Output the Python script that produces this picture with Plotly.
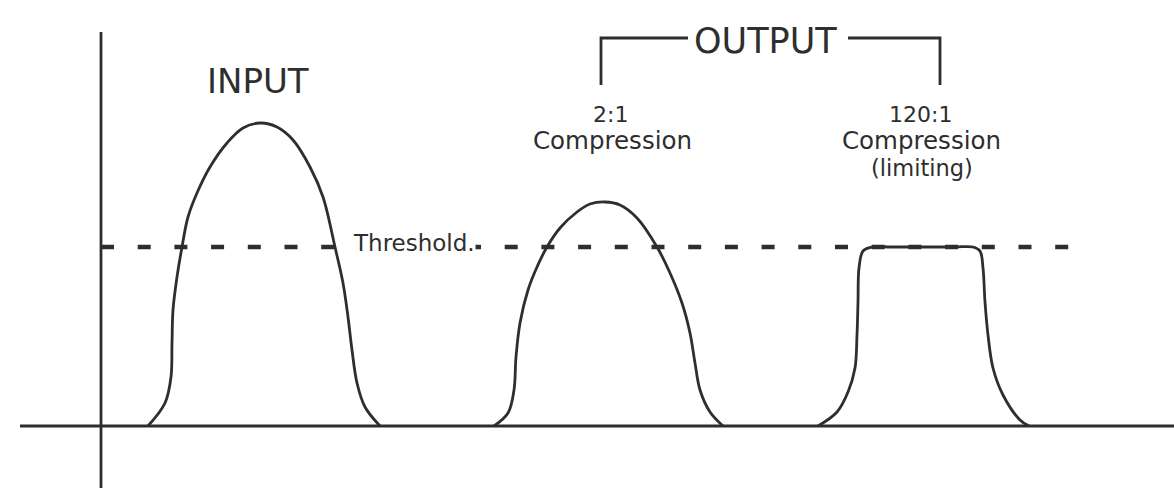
import plotly.graph_objects as go

# ---- data (time units along x, level units along y; baseline = 0) ----
threshold_level = 179
threshold_span = [0, 989]

input_x = [47, 64, 70, 71, 72, 76, 81, 87, 96, 109, 126, 142, 159, 176, 192, 209, 222, 234, 242, 247, 251, 256, 264, 279]
input_y = [0, 23, 49, 83, 116, 149, 179, 209, 233, 259, 283, 298, 303, 299, 286, 259, 229, 179, 143, 109, 76, 43, 19, 0]

comp2_x = [393, 407, 413, 415, 419, 427, 436, 446, 459, 476, 489, 504, 519, 536, 556, 569, 581, 589, 594, 599, 609, 622]
comp2_y = [0, 13, 36, 69, 103, 136, 159, 179, 198, 214, 222, 224, 221, 208, 179, 153, 123, 93, 63, 36, 14, 0]

limit_x = [717, 736, 747, 754, 756, 757, 758, 762, 771, 790, 822, 854, 872, 879, 882, 884, 887, 892, 902, 919, 928]
limit_y = [0, 14, 34, 58, 91, 124, 158, 175, 179, 179, 179, 179, 179, 175, 158, 124, 91, 58, 31, 6, 0]

h_axis_x = [-81, 1073]
v_axis_y = [-62, 394]

bracket_x = [500, 587, 747, 839]
bracket_top = 388
bracket_bottom = 341

labels = [
    ("INPUT", 157, 345, 34, "center"),
    ("OUTPUT", 664, 385, 35, "center"),
    ("2:1", 509, 312, 22, "center"),
    ("Compression", 511, 286, 24.5, "center"),
    ("120:1", 819, 312, 22, "center"),
    ("Compression", 820, 286, 24.5, "center"),
    ("(limiting)", 821, 258, 22.5, "center"),
    ("Threshold.", 251, 183, 23, "left"),
]

INK = "#2e2e2e"
FONT = "DejaVu Sans"

fig = go.Figure()

# threshold dashed line
fig.add_trace(go.Scatter(x=threshold_span, y=[threshold_level, threshold_level], mode="lines",
                         line=dict(color=INK, width=4.5, dash="13px,23.7px"), hoverinfo="skip"))

# axes
fig.add_trace(go.Scatter(x=h_axis_x, y=[0, 0], mode="lines",
                         line=dict(color=INK, width=2.8), hoverinfo="skip"))
fig.add_trace(go.Scatter(x=[0, 0], y=v_axis_y, mode="lines",
                         line=dict(color=INK, width=2.8), hoverinfo="skip"))

# pulses
for xs, ys in [(input_x, input_y), (comp2_x, comp2_y), (limit_x, limit_y)]:
    fig.add_trace(go.Scatter(x=xs, y=ys, mode="lines",
                             line=dict(color=INK, width=2.8, shape="spline", smoothing=1.0),
                             hoverinfo="skip"))

# OUTPUT bracket
fig.add_trace(go.Scatter(x=[bracket_x[0], bracket_x[0], bracket_x[1]],
                         y=[bracket_bottom, bracket_top, bracket_top], mode="lines",
                         line=dict(color=INK, width=2.8), hoverinfo="skip"))
fig.add_trace(go.Scatter(x=[bracket_x[2], bracket_x[3], bracket_x[3]],
                         y=[bracket_top, bracket_top, bracket_bottom], mode="lines",
                         line=dict(color=INK, width=2.8), hoverinfo="skip"))

for text, x, y, size, anchor in labels:
    fig.add_annotation(x=x, y=y, text=text, showarrow=False, xanchor=anchor, yanchor="middle",
                       bgcolor="white" if text.startswith("Threshold") else None,
                       borderpad=0,
                       font=dict(family=FONT, size=size, color=INK))

fig.update_layout(
    width=1174, height=488,
    margin=dict(l=0, r=0, t=0, b=0),
    paper_bgcolor="white", plot_bgcolor="white",
    showlegend=False,
    xaxis=dict(range=[-101, 1073], visible=False, fixedrange=True),
    yaxis=dict(range=[-62, 426], visible=False, fixedrange=True),
)

fig.write_html("out.html", config={"displayModeBar": False},
               post_script="document.body.style.margin='0';document.body.style.overflow='hidden';")
